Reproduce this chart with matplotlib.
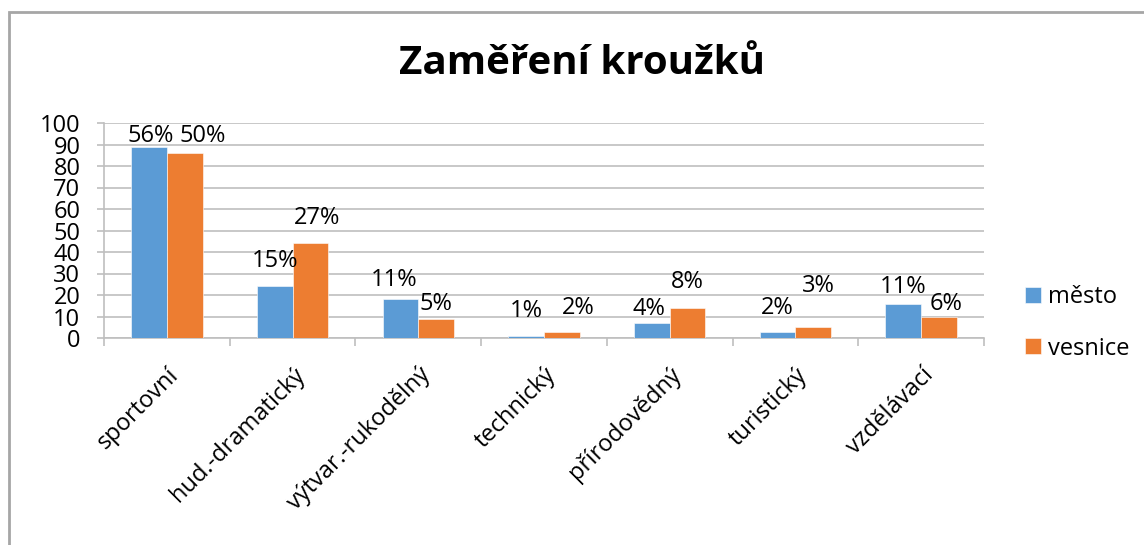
import numpy as np
import matplotlib.pyplot as plt
from matplotlib.patches import Rectangle

# data
categories = ["sportovní", "hud.-dramatický", "výtvar.-rukodělný", "technický",
              "přírodovědný", "turistický", "vzdělávací"]
mesto = [89, 24, 18, 1, 7, 3, 16]
vesnice = [86, 44, 9, 3, 14, 5, 10]
mesto_pct = ["56%", "15%", "11%", "1%", "4%", "2%", "11%"]
vesnice_pct = ["50%", "27%", "5%", "2%", "8%", "3%", "6%"]

# manual label nudges (px) like the hand-moved labels in the original
mesto_dx = [2, 0, -6, 0, -3, 0, 0]
mesto_dy = [5, 19, 13, 19, 8, 18, 11]
vesnice_dx = [18, 7, 0, 16, 0, 5, 7]
vesnice_dy = [11, 19, 9, 18, 20, 35, 6]

plt.rcParams['font.family'] = ['Open Sans', 'DejaVu Sans']

blue = "#5B9BD5"
orange = "#ED7D31"
grey = "#BFBFBF"

fig = plt.figure(figsize=(11.44, 5.45), dpi=100)
ax = fig.add_axes([104 / 1144, 1 - 338 / 545, 880 / 1144, 215 / 545])

x = np.arange(len(categories))
w = 0.284
b1 = ax.bar(x - w / 2, mesto, w, color=blue, edgecolor="white", linewidth=0.4, zorder=3, label="město")
b2 = ax.bar(x + w / 2, vesnice, w, color=orange, edgecolor="white", linewidth=0.4, zorder=3, label="vesnice")

px = 72 / 100
for i in range(len(categories)):
    ax.annotate(mesto_pct[i], (x[i] - w / 2, mesto[i]),
                xytext=(mesto_dx[i] * px, mesto_dy[i] * px), textcoords="offset points",
                ha="center", va="baseline", fontsize=17)
    ax.annotate(vesnice_pct[i], (x[i] + w / 2, vesnice[i]),
                xytext=(vesnice_dx[i] * px, vesnice_dy[i] * px), textcoords="offset points",
                ha="center", va="baseline", fontsize=17)

ax.set_xlim(-0.5, len(categories) - 0.5)
ax.set_ylim(0, 100)
ax.set_yticks(range(0, 101, 10))
ax.yaxis.grid(True, color=grey, linewidth=1.2, zorder=0)
ax.tick_params(axis="y", length=5, width=1.2, color=grey, pad=12, labelsize=17)

ax.set_xticks(x)
ax.set_xticklabels(categories, rotation=45, ha="right", rotation_mode="anchor")
ax.set_xticks(np.arange(-0.5, len(categories), 1), minor=True)
ax.tick_params(axis="x", which="major", length=0, pad=18, labelsize=17)
ax.tick_params(axis="x", which="minor", length=6, width=1.2, color=grey)

for s in ["top", "right"]:
    ax.spines[s].set_visible(False)
ax.spines["left"].set_color(grey)
ax.spines["bottom"].set_color(grey)
ax.spines["left"].set_linewidth(1.2)
ax.spines["bottom"].set_linewidth(1.2)

fig.text(582 / 1144, 1 - 63 / 545, "Zaměření kroužků", ha="center", va="center",
         fontsize=29, fontweight="bold")

fig.legend(handles=[b1, b2], loc="center left", bbox_to_anchor=(1004 / 1144, 1 - 323 / 545),
           frameon=False, fontsize=17, handlelength=0.65, handleheight=0.65,
           handletextpad=0.3, labelspacing=1.15)

fig.patches.append(Rectangle((9 / 1144, -0.1), 1.2, 1.1 - 12 / 545, transform=fig.transFigure,
                             fill=False, edgecolor="#A6A6A6", linewidth=2))

fig.savefig("out.png", dpi=100)
